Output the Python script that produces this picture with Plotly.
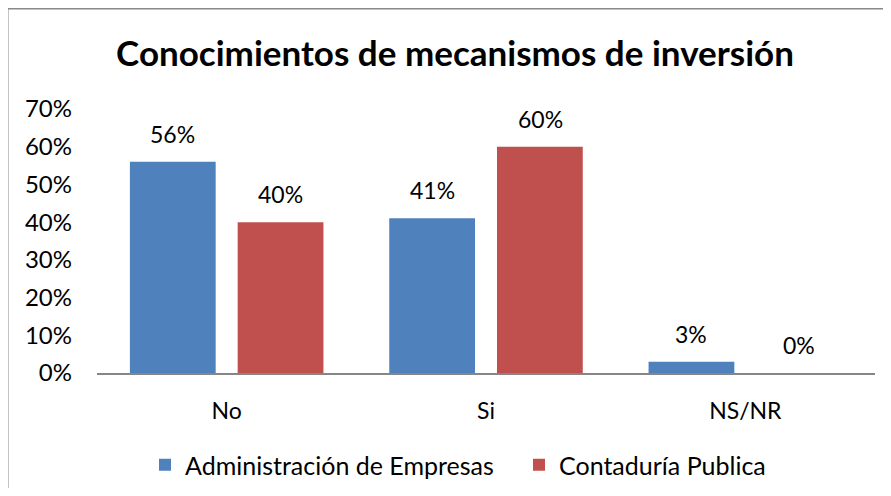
import plotly.graph_objects as go

categories = ["No", "Si", "NS/NR"]
adm_values = [0.56, 0.41, 0.03]
cp_values = [0.40, 0.60, 0.00]
series_names = ["Administración de Empresas", "Contaduría Publica"]
title_text = "Conocimientos de mecanismos de inversión"
tick_vals = [0, 0.1, 0.2, 0.3, 0.4, 0.5, 0.6, 0.7]
tick_text = ["0%", "10%", "20%", "30%", "40%", "50%", "60%", "70%"]
colors = ["#4F81BD", "#C0504D"]

OFF = 8  # page body margin offset
W, H = 891 - 2 * OFF, 496 - 2 * OFF
L, T = 97 - OFF, 109 - OFF
pw, ph = 778, 264
R, B = W - L - pw, H - T - ph

def px_to_paper_x(px):
    return (px - OFF - L) / pw

def px_to_paper_y(py):
    return (H - B - (py - OFF)) / ph

FONT = "Lato"
LBL = 24
fig = go.Figure()
fig.add_trace(go.Bar(
    name=series_names[0], x=categories, y=adm_values,
    marker=dict(color=colors[0], line=dict(width=0)), legend="legend",
))
fig.add_trace(go.Bar(
    name=series_names[1], x=categories, y=cp_values,
    marker=dict(color=colors[1], line=dict(width=0)), legend="legend2",
))

annotations = []
for vals, shift in ((adm_values, -54), (cp_values, 54)):
    for c, v in zip(categories, vals):
        annotations.append(dict(
            x=c, y=v, xref="x", yref="y", text=f"{round(v * 100)}%", showarrow=False,
            xshift=shift, yshift=28, yanchor="middle", xanchor="center",
            font=dict(family=FONT, size=LBL - 1, color="#000000"),
        ))

border = dict(color="#898989", width=2)
leg_font = dict(family=FONT, size=25, color="#000000")
fig.update_layout(
    width=W, height=H,
    margin=dict(l=L, r=R, t=T, b=B, pad=0, autoexpand=False),
    paper_bgcolor="white", plot_bgcolor="white",
    barmode="group", bargap=0.169, bargroupgap=0.204,
    font=dict(family=FONT, size=LBL, color="#000000"),
    title=dict(text=title_text, x=(455 - OFF) / W, xanchor="center", y=1 - 46 / H,
               yanchor="middle",
               font=dict(family=FONT, size=35, color="#000000", weight="bold")),
    xaxis=dict(showline=True, linecolor="#868686", linewidth=2, ticks="", showgrid=False,
               zeroline=False, tickfont=dict(family=FONT, size=LBL - 1), ticklabelstandoff=16,
               automargin=False),
    yaxis=dict(range=[0, 0.7], tickvals=tick_vals, ticktext=tick_text, showgrid=False,
               zeroline=False, showline=False, ticks="", tickfont=dict(family=FONT, size=LBL),
               ticklabelstandoff=24, automargin=False),
    legend=dict(orientation="h", x=px_to_paper_x(145), xanchor="left",
                y=px_to_paper_y(465), yanchor="middle", font=leg_font,
                bgcolor="rgba(0,0,0,0)"),
    legend2=dict(orientation="h", x=px_to_paper_x(519), xanchor="left",
                 y=px_to_paper_y(465), yanchor="middle", font=leg_font,
                 bgcolor="rgba(0,0,0,0)"),
    showlegend=True,
    annotations=annotations,
    shapes=[
        dict(type="line", xref="paper", yref="paper",
             x0=px_to_paper_x(7.5), x1=px_to_paper_x(900),
             y0=px_to_paper_y(8.5), y1=px_to_paper_y(8.5), line=border, layer="below"),
        dict(type="line", xref="paper", yref="paper",
             x0=px_to_paper_x(7.5), x1=px_to_paper_x(7.5),
             y0=px_to_paper_y(8.5), y1=px_to_paper_y(505), line=border, layer="below"),
    ],
)

fig.write_html("out.html")
